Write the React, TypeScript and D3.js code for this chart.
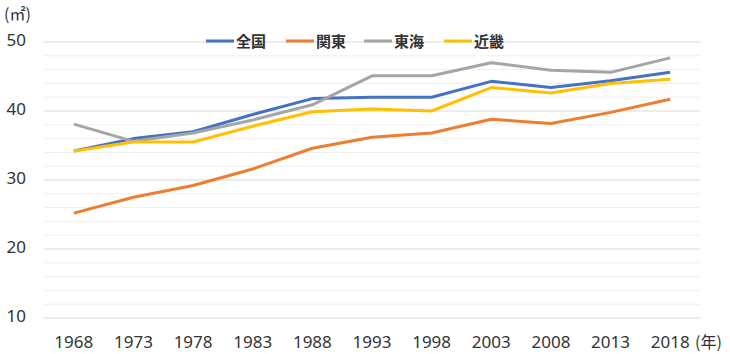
import React, { useEffect, useRef } from 'react';
import { select, scalePoint, scaleLinear, line, range } from 'd3';

const years = ['1968', '1973', '1978', '1983', '1988', '1993', '1998', '2003', '2008', '2013', '2018'];
const zenkoku = [34.2, 36.0, 37.0, 39.5, 41.8, 42.0, 42.0, 44.3, 43.4, 44.4, 45.6];
const kanto = [25.2, 27.5, 29.2, 31.6, 34.6, 36.2, 36.8, 38.8, 38.2, 39.8, 41.7];
const tokai = [38.1, 35.6, 36.8, 38.7, 40.9, 45.1, 45.1, 47.0, 45.9, 45.6, 47.7];
const kinki = [34.2, 35.5, 35.5, 37.8, 39.9, 40.3, 40.0, 43.4, 42.6, 44.0, 44.6];
const seriesNames = ['全国', '関東', '東海', '近畿'];
const yTicks = [10, 20, 30, 40, 50];

const colors = ['#4472C4', '#ED7D31', '#A5A5A5', '#FFC000'];
const font = '"Noto Sans", "Noto Sans CJK JP", sans-serif';
const cjk = '"Noto Sans CJK JP", sans-serif';

export default function App() {
  const ref = useRef<SVGSVGElement>(null);

  useEffect(() => {
    const svg = select(ref.current);
    svg.selectAll('*').remove();

    const left = 44, right = 700, top = 42, bottom = 318;

    const x = scalePoint<string>().domain(years).range([left, right]).padding(0.5);
    const y = scaleLinear().domain([10, 50]).range([bottom, top]);

    // minor grid every 2, major every 10
    svg.append('g')
      .selectAll('line')
      .data(range(10, 51, 2).filter(v => v % 10 !== 0))
      .enter()
      .append('line')
      .attr('x1', left).attr('x2', right)
      .attr('y1', d => y(d)).attr('y2', d => y(d))
      .attr('stroke', '#efefef').attr('stroke-width', 1);

    svg.append('g')
      .selectAll('line')
      .data(yTicks)
      .enter()
      .append('line')
      .attr('x1', left).attr('x2', right)
      .attr('y1', d => y(d)).attr('y2', d => y(d))
      .attr('stroke', '#d9d9d9').attr('stroke-width', 1);

    svg.append('g')
      .selectAll('text')
      .data(yTicks)
      .enter()
      .append('text')
      .attr('x', 26)
      .attr('y', d => y(d) + 3.5)
      .attr('text-anchor', 'end')
      .attr('font-family', font)
      .attr('font-size', 17)
      .attr('fill', '#333')
      .text(d => d);

    svg.append('g')
      .selectAll('text')
      .data(years)
      .enter()
      .append('text')
      .attr('x', d => x(d)!)
      .attr('y', 348)
      .attr('text-anchor', 'middle')
      .attr('font-family', font)
      .attr('font-size', 17)
      .attr('fill', '#333')
      .text(d => d);

    svg.append('text')
      .attr('x', 695).attr('y', 348)
      .attr('font-family', cjk).attr('font-size', 16).attr('fill', '#333')
      .text('(年)');

    svg.append('text')
      .attr('x', 4).attr('y', 20)
      .attr('font-family', cjk).attr('font-size', 16).attr('fill', '#333')
      .text('(㎡)');

    const series = [zenkoku, kanto, tokai, kinki];
    const path = line<number>()
      .x((d, i) => x(years[i])!)
      .y(d => y(d));

    series.forEach((s, i) => {
      svg.append('path')
        .datum(s)
        .attr('d', path)
        .attr('fill', 'none')
        .attr('stroke', colors[i])
        .attr('stroke-width', 3)
        .attr('stroke-linejoin', 'round');
    });

    // legend
    const legendX = [206, 286, 364, 444];
    const legend = svg.append('g');
    seriesNames.forEach((name, i) => {
      legend.append('line')
        .attr('x1', legendX[i]).attr('x2', legendX[i] + 28)
        .attr('y1', 41).attr('y2', 41)
        .attr('stroke', colors[i]).attr('stroke-width', 3);
      legend.append('text')
        .attr('x', legendX[i] + 30).attr('y', 47)
        .attr('font-family', cjk).attr('font-size', 15)
        .attr('font-weight', 'bold')
        .attr('fill', '#333')
        .text(name);
    });
  }, []);

  return (
    <svg ref={ref} width={730} height={354} style={{ position: 'absolute', left: 0, top: 0, background: '#fff' }} />
  );
}
